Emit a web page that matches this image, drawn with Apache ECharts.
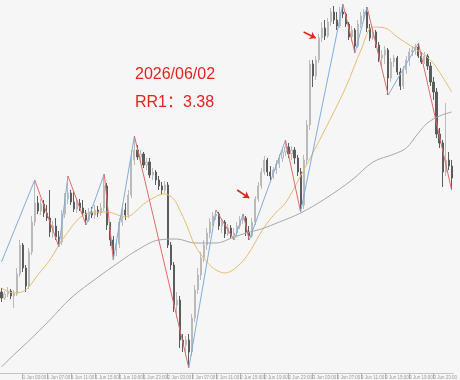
<!DOCTYPE html>
<html><head><meta charset="utf-8">
<script src="https://cdn.jsdelivr.net/npm/echarts@6/dist/echarts.min.js"></script>
<style>html,body{margin:0;padding:0;background:#f6f6f6}#c{width:460px;height:380px}</style>
</head><body><div id="c"></div>
<script>
// candle values (price units), 150 bars
const opens = [
108,102,106,109,104,106,126,155,132,114,
148,178,197,189,196,187,182,168,174,163,
158,186,201,207,198,191,197,192,187,180,
188,185,190,187,192,214,175,160,150,156,
178,190,185,205,240,250,243,246,235,238,
225,228,220,214,210,215,155,135,95,100,
60,55,60,48,82,110,125,142,155,167,
178,184,186,174,178,166,172,164,167,174,
180,182,168,164,178,201,214,228,240,228,
224,230,236,242,248,253,246,250,242,228,
195,240,275,336,324,340,362,372,364,378,
388,380,374,388,386,376,363,370,354,376,
384,388,372,362,368,355,342,345,350,322,
338,342,328,314,330,340,348,350,353,344,
338,344,334,318,308,266,257,228,240,234];
const closes = [
102,106,109,104,106,126,155,132,114,148,
178,197,189,196,187,182,168,174,163,158,
186,201,207,198,191,197,192,187,180,188,
185,190,187,192,214,175,160,150,156,178,
190,185,205,240,250,243,246,235,238,225,
228,220,214,210,215,155,135,95,100,60,
55,60,48,82,110,125,142,155,167,178,
184,186,174,178,166,172,164,167,174,180,
182,168,164,178,201,214,228,240,228,224,
230,236,242,248,253,246,250,242,228,195,
240,275,336,324,340,362,372,364,378,388,
380,374,388,386,376,363,370,354,376,384,
388,372,362,368,355,342,345,350,322,338,
342,328,314,330,340,348,350,353,344,338,
344,334,318,308,266,257,228,240,234,222];
const lows = [
98,100,103,101,92,104,123,128,108,111,
145,174,186,185,183,179,163,162,160,153,
155,182,196,195,188,187,189,184,175,178,
182,181,183,184,189,170,154,140,144,152,
174,180,182,202,235,240,237,232,230,222,
220,215,210,206,207,152,130,88,82,52,
48,44,32,44,78,106,120,138,150,162,
174,180,170,167,162,164,161,160,164,171,
176,164,160,162,175,198,211,225,224,220,
221,226,232,238,244,242,240,236,224,188,
191,235,270,313,320,337,358,360,362,374,
376,370,372,382,373,360,358,347,352,372,
380,368,359,360,352,338,333,336,305,318,
333,325,310,311,326,334,344,345,342,336,
336,330,314,300,262,252,213,224,230,210];
const highs = [
112,109,113,111,110,132,160,157,135,152,
184,220,204,201,200,195,210,179,182,169,
190,207,224,210,208,202,201,200,190,192,
193,195,194,197,226,217,178,164,160,182,
196,197,210,250,264,255,250,248,242,242,
232,230,224,218,219,218,158,138,108,104,
66,64,66,86,115,132,148,160,172,182,
188,190,188,182,180,176,175,172,178,184,
186,184,174,182,204,218,232,244,242,234,
233,240,246,252,260,257,254,253,245,232,
245,280,340,340,344,366,378,380,382,392,
394,388,393,396,388,378,374,372,380,388,
391,393,376,372,370,358,350,354,352,342,
345,344,332,334,344,352,354,356,357,348,
348,346,338,323,312,272,260,297,248,240];

// time axis tick labels (every 8 bars starting at bar 7)
const tickLabels = ['1 Jun 03:00','1 Jun 07:00','1 Jun 11:00','1 Jun 15:00','1 Jun 19:00','1 Jun 23:00',
  '2 Jun 03:00','2 Jun 07:00','2 Jun 11:00','2 Jun 15:00','2 Jun 19:00','2 Jun 23:00',
  '3 Jun 03:00','3 Jun 07:00','3 Jun 11:00','3 Jun 15:00','3 Jun 19:00','3 Jun 23:00'];
const firstTick = 7, tickStep = 8;

// moving averages [bar, value]
const orangeMA = [[0,112],[4,107],[8,110],[12,125],[16,140],[21,164],[28,186],[35,188],[41,183],[48,198],
  [54,206],[57,201],[59,190],[61,177],[64,155],[68,138],[71,130],[74,127],[77,131],[81,143],[87,173],
  [91,188],[94,197],[99,224],[107,270],[114,313],[119,350],[123,373],[127,372],[131,363],[136,353],
  [142,340],[146,323],[149,308]];
const grayMA = [[0,33],[4,45],[9,59],[16,80],[23,102],[32,123],[39,138],[45,150],[52,160],[58,161],
  [64,157],[71,157],[77,163],[81,167],[86,171],[92,178],[99,187],[107,201],[116,220],[123,238],
  [130,246],[134,252],[138,267],[141,277],[145,284],[149,288]];

// zigzag pivots [bar, price]
const zigzag = [[0,138],[11,220],[19,153],[22,224],[28,175],[34,226],[37,140],[44,264],[62,32],[71,190],
  [77,160],[80,186],[82,160],[94,260],[99,188],[113,396],[117,347],[121,393],[128,305],[138,357],[149,210]];

// annotation arrows [[fromBar, fromPrice],[toBar, toPrice]]
const arrows = [[[78,210],[82,202]],[[100,368],[104,362]]];
const noteDate = '2026/06/02';
const noteRR = 'RR1：3.38';

const chart = echarts.init(document.getElementById('c'));
const cats = opens.map((_, i) => i);
const candles = opens.map((o, i) => [o, closes[i], lows[i], highs[i]]);
const isTick = (idx) => idx >= firstTick && (idx - firstTick) % tickStep === 0;

const zz = [];
for (let k = 0; k < zigzag.length - 1; k++) {
  const a = zigzag[k], b = zigzag[k + 1];
  zz.push({type: 'line', data: [a, b], symbol: 'none', silent: true, z: 4, animation: false,
    lineStyle: {width: 1, color: b[1] > a[1] ? '#7eaddf' : '#e26a6a'}});
}

chart.setOption({
  backgroundColor: '#f6f6f6',
  animation: false,
  grid: {left: 0, right: 0, top: 0, bottom: 7, containLabel: false},
  xAxis: {
    type: 'category', data: cats, boundaryGap: true,
    axisLine: {show: true, lineStyle: {color: '#c4c4c4', width: 1}},
    axisTick: {show: true, alignWithLabel: true, interval: (i) => isTick(i), length: 6, lineStyle: {color: '#b0b0b0'}},
    axisLabel: {show: true, interval: (i) => isTick(i), align: 'left', margin: 2, fontSize: 4.5, color: '#9a9a9a',
      fontFamily: 'Liberation Sans, Arial, sans-serif',
      formatter: (v, i) => tickLabels[(i - firstTick) / tickStep] || ''},
    splitLine: {show: false}
  },
  yAxis: {type: 'value', min: 27, max: 400, show: false, splitLine: {show: false}},
  graphic: [
    {type: 'text', x: 135, y: 75, z: 10, style: {text: noteDate, fill: '#e3231f', font: '16px "Liberation Sans", Arial, sans-serif', verticalAlign: 'middle'}},
    {type: 'text', x: 135, y: 103, z: 10, style: {text: noteRR, fill: '#e3231f', font: '16px "Liberation Sans", Arial, "Noto Sans CJK SC", sans-serif', verticalAlign: 'middle'}}
  ],
  series: [
    {type: 'candlestick', data: candles, barWidth: 1.6, z: 2,
      itemStyle: {color: '#ececec', color0: '#5c5c5c', borderColor: '#bababa', borderColor0: '#5c5c5c', borderWidth: 1},
      markLine: {silent: true, symbol: ['none', 'arrow'], symbolSize: 6, animation: false,
        label: {show: false}, lineStyle: {color: '#e3231f', width: 1.5, type: 'solid'},
        data: arrows.map(a => [{coord: a[0]}, {coord: a[1]}])}
    },
    {type: 'line', data: orangeMA, smooth: 0.35, symbol: 'none', z: 3, silent: true,
      lineStyle: {color: '#e8bd72', width: 1}},
    {type: 'line', data: grayMA, smooth: 0.35, symbol: 'none', z: 3, silent: true,
      lineStyle: {color: '#a8a8a8', width: 1}},
    ...zz
  ]
});
</script>
</body></html>
